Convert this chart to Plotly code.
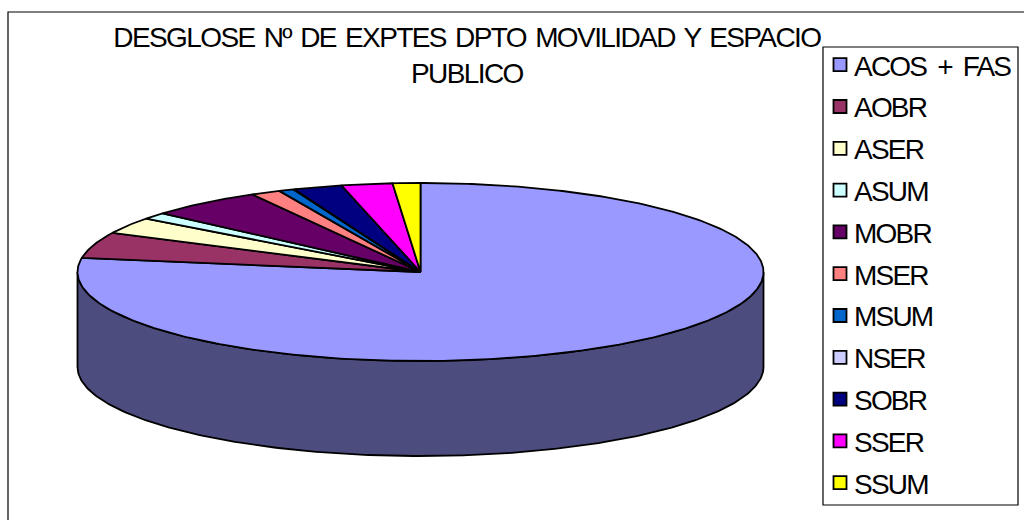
import numpy as np
import plotly.graph_objects as go

categories = ["ACOS + FAS", "AOBR", "ASER", "ASUM", "MOBR", "MSER", "MSUM", "NSER", "SOBR", "SSER", "SSUM"]
values = [775, 47, 30, 12, 54, 14, 7, 0.5, 23, 24, 13]
colors = ["#9999FF", "#993366", "#FFFFCC", "#CCFFFF", "#660066", "#FF8080", "#0066CC", "#CCCCFF", "#000080", "#FF00FF", "#FFFF00"]
title_text = "DESGLOSE Nº DE EXPTES DPTO MOVILIDAD Y ESPACIO<br>PUBLICO"

CX, CY, RX, RY, DEPTH = 420.5, 272, 343, 89, 95
FONT = "Liberation Sans"


def darken(hex_color):
    r, g, b = (int(hex_color[i:i + 2], 16) for i in (1, 3, 5))
    return f"rgb({r // 2},{g // 2},{b // 2})"


fig = go.Figure()
line = dict(color="black", width=1.8)

vals = np.array(values, dtype=float)
edges = np.concatenate([[0], np.cumsum(vals)]) / vals.sum() * 2 * np.pi  # clockwise from 12 o'clock

# side wall: only the parts of slices facing the viewer (pi/2..3pi/2)
for i, col in enumerate(colors):
    a0, a1 = max(edges[i], np.pi / 2), min(edges[i + 1], 3 * np.pi / 2)
    if a1 <= a0:
        continue
    t = np.linspace(a0, a1, 240)
    x = CX + RX * np.sin(t)
    y = CY - RY * np.cos(t)
    fig.add_trace(go.Scatter(
        x=np.concatenate([x, x[::-1], x[:1]]),
        y=np.concatenate([y, y[::-1] + DEPTH, y[:1]]),
        mode="lines", fill="toself", fillcolor=darken(col), line=line,
        showlegend=False, hoverinfo="skip"))

# top face
for i, col in enumerate(colors):
    n = max(int((edges[i + 1] - edges[i]) * 80), 3)
    t = np.linspace(edges[i], edges[i + 1], n)
    x = np.concatenate([[CX], CX + RX * np.sin(t), [CX]])
    y = np.concatenate([[CY], CY - RY * np.cos(t), [CY]])
    fig.add_trace(go.Scatter(x=x, y=y, mode="lines", fill="toself", fillcolor=col, line=line,
                             name=categories[i], showlegend=False, hoverinfo="x+y+name"))

# legend entries
for i, col in enumerate(colors):
    fig.add_trace(go.Scatter(x=[None], y=[None], mode="markers", name=categories[i], legendgroup=categories[i],
                             marker=dict(symbol="square", size=13, color=col, line=dict(color="black", width=1.8))))

fig.add_annotation(x=467, y=55, xref="x", yref="y", text=title_text, showarrow=False,
                   font=dict(family=FONT, size=28, color="black"), align="center", yanchor="middle", xanchor="center")

fig.add_shape(type="rect", x0=8, y0=12, x1=1040, y1=540, line=dict(color="black", width=1.2), layer="below")
fig.add_shape(type="rect", x0=823, y0=47, x1=1018, y1=505, line=dict(color="black", width=1.2), fillcolor="white", layer="above")

fig.update_layout(
    width=1024, height=520, margin=dict(l=0, r=0, t=0, b=0),
    paper_bgcolor="white", plot_bgcolor="white",
    xaxis=dict(range=[0, 1024], visible=False, fixedrange=True),
    yaxis=dict(range=[520, 0], visible=False, fixedrange=True),
    legend=dict(x=1, y=1 - 40 / 520, xanchor="right", yanchor="top", bgcolor="rgba(0,0,0,0)",
                borderwidth=0, tracegroupgap=2.4, entrywidth=140, entrywidthmode="pixels",
                font=dict(family=FONT, size=28, color="black"), itemclick=False, itemdoubleclick=False),
)

post = """
document.documentElement.style.overflow='hidden';
document.body.style.margin='0';
document.querySelectorAll('.legend text').forEach(function(t){t.style.letterSpacing='-1.8px';t.style.wordSpacing='5px';});
document.querySelectorAll('.annotation text').forEach(function(t){t.style.letterSpacing='-1.6px';t.style.wordSpacing='3px';});
document.querySelectorAll('.legendsymbols').forEach(function(g){g.setAttribute('transform','translate(6,0)');});
"""
fig.write_html("out.html", post_script=post, default_width="1024px", default_height="520px",
               config={"displayModeBar": False, "responsive": False})
